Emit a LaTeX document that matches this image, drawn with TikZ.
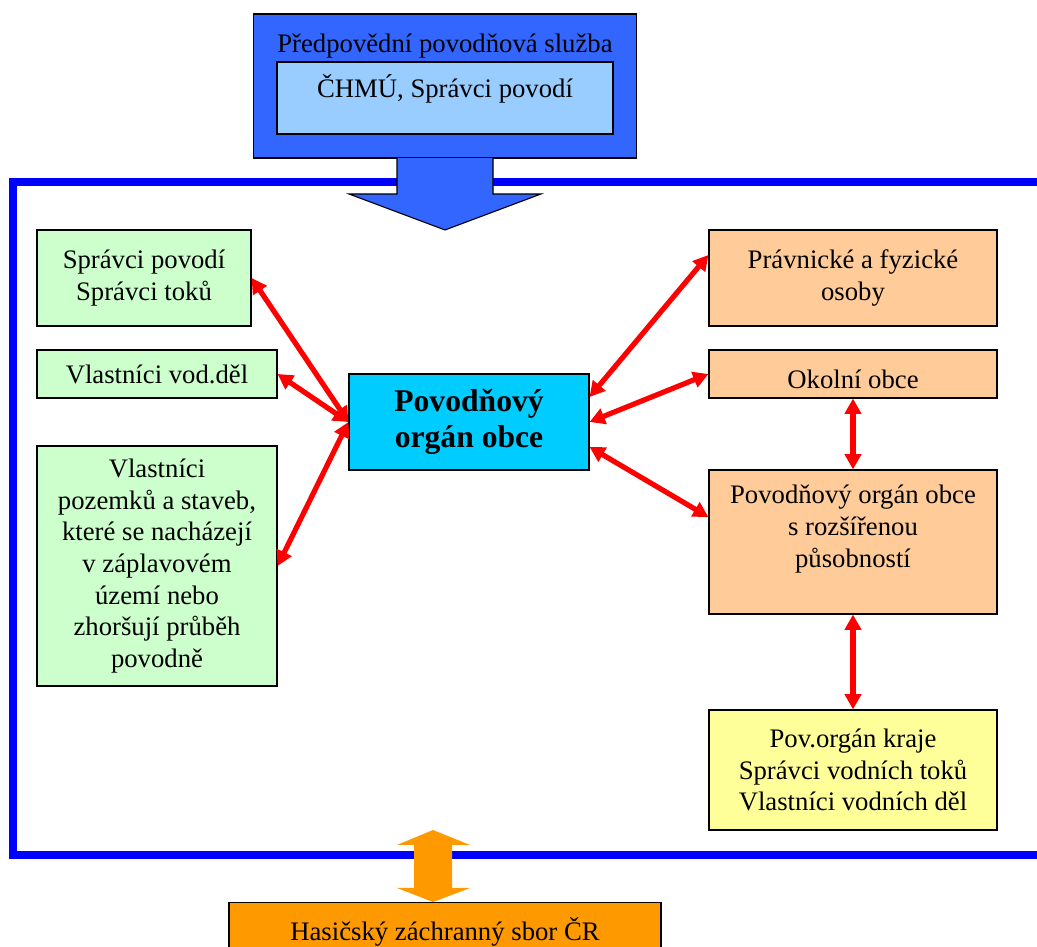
\documentclass[tikz,border=0pt]{standalone}
\usepackage{fontspec}
\setmainfont{Liberation Serif}
\usetikzlibrary{arrows.meta}
\definecolor{ramec}{HTML}{0000FF}
\definecolor{modra}{HTML}{3366FF}
\definecolor{svmodra}{HTML}{99CCFF}
\definecolor{zelena}{HTML}{CCFFCC}
\definecolor{tyrkys}{HTML}{00CCFF}
\definecolor{broskev}{HTML}{FFCC99}
\definecolor{zluta}{HTML}{FFFF99}
\definecolor{oranz}{HTML}{FF9900}
\definecolor{cervena}{HTML}{FF0000}
\begin{document}
\begin{tikzpicture}[
    box/.style={draw=black, line width=0.8pt, align=center, inner sep=2pt,
      font=\fontsize{19}{22.5}\selectfont},
    link/.style={{Triangle[length=0.38cm,width=0.4cm]}-{Triangle[length=0.38cm,width=0.4cm]},
      draw=cervena, line width=0.13cm}]
  \useasboundingbox (0,0) rectangle (25.925,23.675);
  % ramec
  \draw[ramec, line width=0.2cm] (25.925,19.125) -- (0.325,19.125) --
    (0.325,2.3) -- (25.925,2.3);
  % predpovedni sluzba
  \node[box, fill=modra, minimum width=9.575cm, minimum height=3.6cm,
    text height=0.55cm, text depth=2.2cm] (pps) at (11.125,21.525)
    {Předpovědní povodňová služba};
  \node[box, fill=svmodra, minimum width=8.4cm, minimum height=1.8cm,
    text height=0.5cm, text depth=0.5cm] (chmu) at (11.125,21.225)
    {ČHMÚ, Správci povodí};
  \draw[fill=modra, line width=0.8pt] (9.925,19.725) -- (9.925,18.825) --
    (8.725,18.825) -- (11.125,17.925) -- (13.525,18.825) -- (12.325,18.825)
    -- (12.325,19.725);
  % levy sloupec
  \node[box, fill=zelena, minimum width=5.35cm, minimum height=2.4cm] (sprpov)
    at (3.6,16.725) {Správci povodí\\ Správci toků};
  \node[box, fill=zelena, minimum width=6cm, minimum height=1.2cm] (vlvd)
    at (3.925,14.325) {Vlastníci vod.děl};
  \node[box, fill=zelena, minimum width=6cm, minimum height=6cm] (vlpoz)
    at (3.925,9.525) {Vlastníci\\ pozemků a staveb,\\ které se nacházejí\\
    v záplavovém\\ území nebo\\ zhoršují průběh\\ povodně};
  % stred
  \node[box, fill=tyrkys, minimum width=6cm, minimum height=2.4cm,
    font=\fontsize{22.5}{25.6}\selectfont\bfseries] (poo) at (11.725,13.125)
    {Povodňový\\ orgán obce};
  % pravy sloupec
  \node[box, fill=broskev, minimum width=7.2cm, minimum height=2.4cm] (pfo)
    at (21.325,16.725) {Právnické a fyzické\\ osoby};
  \node[box, fill=broskev, minimum width=7.2cm, minimum height=1.2cm,
    text height=0.75cm, text depth=0cm] (okol)
    at (21.325,14.325) {Okolní obce};
  \node[box, fill=broskev, minimum width=7.2cm, minimum height=3.6cm] (orp)
    at (21.325,10.125) {Povodňový orgán obce\\ s rozšířenou\\ působností\\ ~};
  \node[box, fill=zluta, minimum width=7.2cm, minimum height=3cm] (kraj)
    at (21.325,4.425) {Pov.orgán kraje\\ Správci vodních toků\\
    Vlastníci vodních děl};
  % hasici
  \node[box, fill=oranz, minimum width=10.8cm, minimum height=1.55cm,
    text height=0.5cm, text depth=0.15cm, anchor=north] (hzs) at (11.125,1.125)
    {Hasičský záchranný sbor ČR};
  \fill[oranz] (10.825,2.925) -- (11.75,2.55) -- (11.3,2.55) -- (11.3,1.475) --
    (11.75,1.475) -- (10.825,1.125) -- (9.925,1.475) -- (10.35,1.475) --
    (10.35,2.55) -- (9.925,2.55) -- cycle;
  % vazby
  \draw[link] (poo.west) -- (sprpov.east);
  \draw[link] (poo.west) -- (vlvd.east);
  \draw[link] (poo.west) -- (vlpoz.east);
  \draw[link] ([yshift=0.625cm]poo.east) -- ([yshift=0.575cm]pfo.west);
  \draw[link] (poo.east) -- (okol.west);
  \draw[link] ([yshift=-0.625cm]poo.east) -- ([yshift=0.625cm]orp.west);
  \draw[link] (okol.south) -- (orp.north);
  \draw[link] (orp.south) -- (kraj.north);
\end{tikzpicture}
\end{document}
